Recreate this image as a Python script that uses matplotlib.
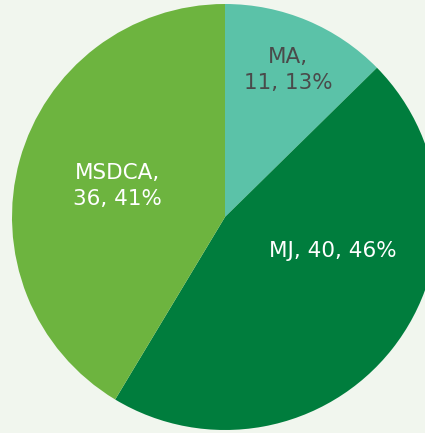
import matplotlib.pyplot as plt

# dados
categorias = ['MA', 'MJ', 'MSDCA']
valores = [11, 40, 36]
cores = ['#5bc2a8', '#007d3d', '#6db43f']
cor_texto = ['#4a4a4a', 'white', 'white']

total = sum(valores)
rotulos = [f"{c},\n{v}, {round(v / total * 100)}%" for c, v in zip(categorias, valores)]
rotulos[1] = f"{categorias[1]}, {valores[1]}, {round(valores[1] / total * 100)}%"

fig = plt.figure(figsize=(4.25, 4.33), dpi=100)
fig.patch.set_facecolor('#f1f6ee')
ax = fig.add_axes([0, 0, 1, 1])
ax.set_facecolor('#f1f6ee')

wedges, _ = ax.pie(valores, colors=cores, startangle=90, counterclock=False,
                   radius=1, center=(0, 0))

# posicao dos textos (layout)
pos_txt = [(0.295, 0.69), (0.505, -0.16), (-0.505, 0.145)]
for (x, y), txt, c in zip(pos_txt, rotulos, cor_texto):
    ax.text(x, y, txt, ha='center', va='center', color=c, fontsize=15.5,
            family='DejaVu Sans', linespacing=1.38)

ax.set_xlim(-225 / 213, 200 / 213)
ax.set_ylim(-216 / 213, 217 / 213)
ax.set_aspect('auto')
ax.axis('off')

fig.savefig('out.png', dpi=100, facecolor=fig.get_facecolor())
